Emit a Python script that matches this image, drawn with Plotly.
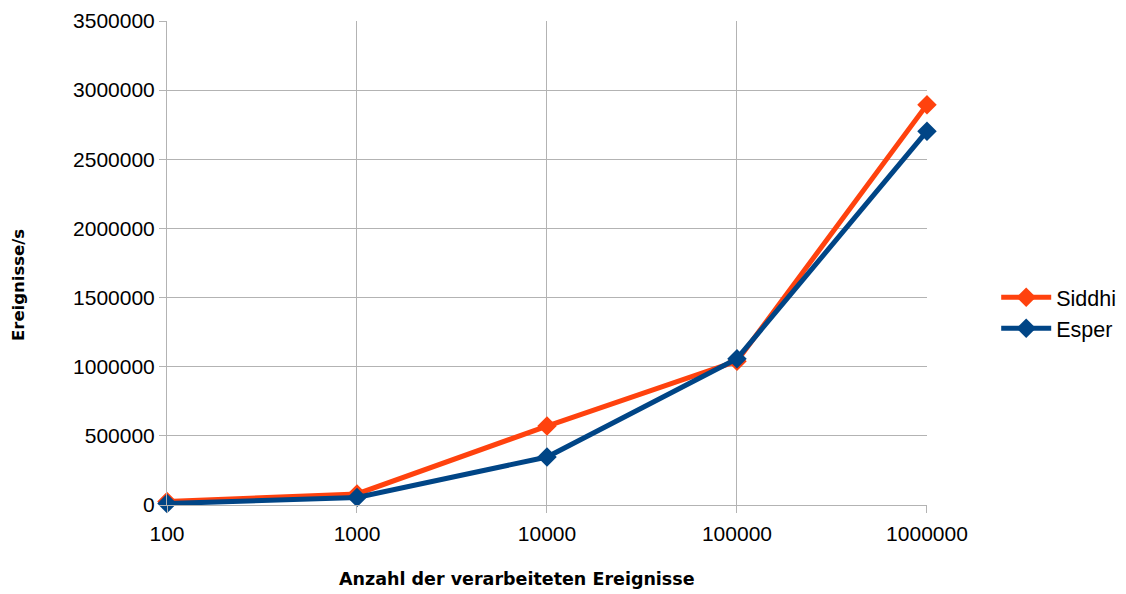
import plotly.graph_objects as go

categories = ["100", "1000", "10000", "100000", "1000000"]
siddhi = [25000, 80000, 571000, 1040000, 2895000]
esper = [10000, 55000, 347000, 1058000, 2703000]
y_ticks = [0, 500000, 1000000, 1500000, 2000000, 2500000, 3000000, 3500000]

fig = go.Figure()
fig.add_trace(go.Scatter(x=categories, y=siddhi, name="Siddhi", mode="lines+markers",
                         line=dict(color="#ff420e", width=5),
                         marker=dict(symbol="diamond", size=15, color="#ff420e"),
                         cliponaxis=False))
fig.add_trace(go.Scatter(x=categories, y=esper, name="Esper", mode="lines+markers",
                         line=dict(color="#004586", width=5),
                         marker=dict(symbol="diamond", size=15, color="#004586"),
                         cliponaxis=False))

fig.update_layout(
    width=1126, height=594,
    margin=dict(l=159, r=0, t=13, b=97, autoexpand=False),
    paper_bgcolor="white", plot_bgcolor="white",
    font=dict(family="Liberation Sans, Arial, sans-serif", size=21, color="black"),
    legend=dict(x=0.8575, y=0.397, yanchor="middle", xanchor="left",
                font=dict(size=21.5), itemwidth=50, tracegroupgap=0),
    xaxis=dict(type="category", range=[0, 4], domain=[0, 0.7859], automargin=False,
               showgrid=True, gridcolor="#b3b3b3", ticklabelstandoff=3,
               showline=True, linecolor="#b3b3b3", ticks="outside", ticklen=7,
               tickcolor="#b3b3b3", zeroline=False),
    yaxis=dict(range=[0, 3500000], tickvals=y_ticks, ticktext=[str(v) for v in y_ticks],
               automargin=False,
               showgrid=True, gridcolor="#b3b3b3", showline=True, linecolor="#b3b3b3",
               ticks="outside", ticklen=7, tickcolor="#b3b3b3", zeroline=False),
    annotations=[
        dict(text="<b>Anzahl der verarbeiteten Ereignisse</b>", xref="paper", yref="paper",
             x=(509 - 159) / 967, y=-0.1529, xanchor="center", yanchor="middle", showarrow=False,
             font=dict(family="DejaVu Sans, sans-serif", size=17.5)),
        dict(text="<b>Ereignisse/s</b>", xref="paper", yref="paper", textangle=-90,
             x=-0.1541, y=0.4545, xanchor="center", yanchor="middle", showarrow=False,
             font=dict(family="DejaVu Sans, sans-serif", size=16.5)),
    ],
)

fig.write_html("out.html")
